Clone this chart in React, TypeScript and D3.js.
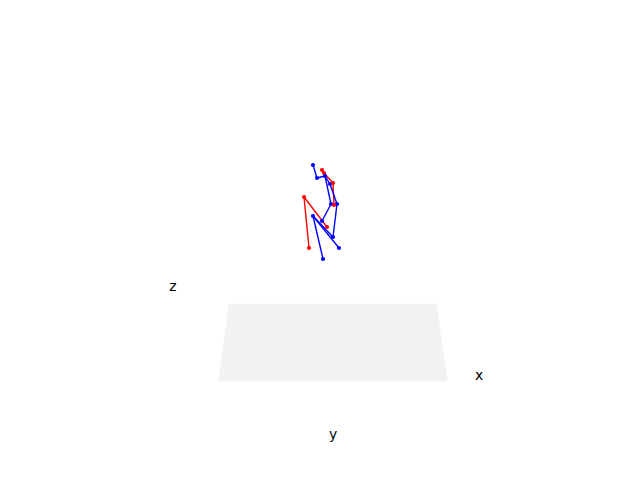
import { useEffect, useRef } from "react";
import * as d3 from "d3";

// joint positions in pose units (projected view, y up)
const jointNames = ["A", "B", "C", "D", "E", "P", "K", "F", "G", "L", "M", "H", "J", "N", "I", "Q", "O", "R"];
const jointX = [-90, -50, 0, 20, 30, 80, 110, 90, 150, 120, -180, 0, -90, 50, 110, 170, -130, 10];
const jointY = [450, 320, 400, 370, 340, 260, 270, 60, 60, 50, 130, -110, -60, -170, -270, -380, -380, -490];
const jointSide = ["b", "b", "r", "r", "b", "b", "r", "b", "b", "r", "r", "b", "b", "r", "b", "b", "r", "b"];

// bones as [from, to, side]
const bones: [string, string, string][] = [
  ["C", "D", "r"],
  ["D", "K", "r"],
  ["K", "L", "r"],
  ["M", "N", "r"],
  ["M", "O", "r"],
  ["A", "B", "b"],
  ["B", "E", "b"],
  ["E", "F", "b"],
  ["E", "P", "b"],
  ["P", "G", "b"],
  ["F", "H", "b"],
  ["G", "I", "b"],
  ["J", "I", "b"],
  ["J", "Q", "b"],
  ["J", "R", "b"],
];

// floor pane corners (same units)
const paneX = [-930, 1145, 1255, -1035];
const paneY = [-940, -940, -1710, -1710];

const axisLabels = ["x", "y", "z"];
const labelX = [1570, 110, -1490];
const labelY = [-1650, -2240, -760];

export default function App() {
  const ref = useRef<SVGSVGElement | null>(null);

  useEffect(() => {
    if (!ref.current) return;
    const width = 640;
    const height = 480;

    const svg = d3.select(ref.current).attr("width", width).attr("height", height);
    svg.selectAll("*").remove();

    const x = d3.scaleLinear().domain([-1000, 1000]).range([222, 422]);
    const y = d3.scaleLinear().domain([-1000, 1000]).range([310, 110]);
    const color = (s: string) => (s === "r" ? "#ff0000" : "#0000ff");

    svg.append("rect").attr("width", width).attr("height", height).attr("fill", "#fff");

    // floor pane
    const pane = paneX.map((v, i) => [x(v), y(paneY[i])] as [number, number]);
    svg.append("path")
      .attr("d", d3.line()(pane) + "Z")
      .attr("fill", "#f2f2f2")
      .attr("stroke", "#f7f7f7")
      .attr("stroke-width", 1);

    // axis labels
    svg.selectAll("text.lab")
      .data(axisLabels)
      .join("text")
      .attr("class", "lab")
      .attr("x", (_, i) => x(labelX[i]))
      .attr("y", (_, i) => y(labelY[i]))
      .attr("text-anchor", "middle")
      .attr("dominant-baseline", "central")
      .attr("font-family", "DejaVu Sans")
      .attr("font-size", 13.9)
      .text(d => d);

    const idx = (n: string) => jointNames.indexOf(n);

    // bones
    svg.selectAll("line.bone")
      .data(bones)
      .join("line")
      .attr("class", "bone")
      .attr("x1", d => x(jointX[idx(d[0])]))
      .attr("y1", d => y(jointY[idx(d[0])]))
      .attr("x2", d => x(jointX[idx(d[1])]))
      .attr("y2", d => y(jointY[idx(d[1])]))
      .attr("stroke", d => color(d[2]))
      .attr("stroke-width", 1.4);

    // joints
    svg.selectAll("circle.joint")
      .data(jointNames)
      .join("circle")
      .attr("class", "joint")
      .attr("cx", (_, i) => x(jointX[i]))
      .attr("cy", (_, i) => y(jointY[i]))
      .attr("r", 2.1)
      .attr("fill", (_, i) => color(jointSide[i]));
  }, []);

  return <svg ref={ref} style={{ position: "fixed", left: 0, top: 0 }}></svg>;
}
